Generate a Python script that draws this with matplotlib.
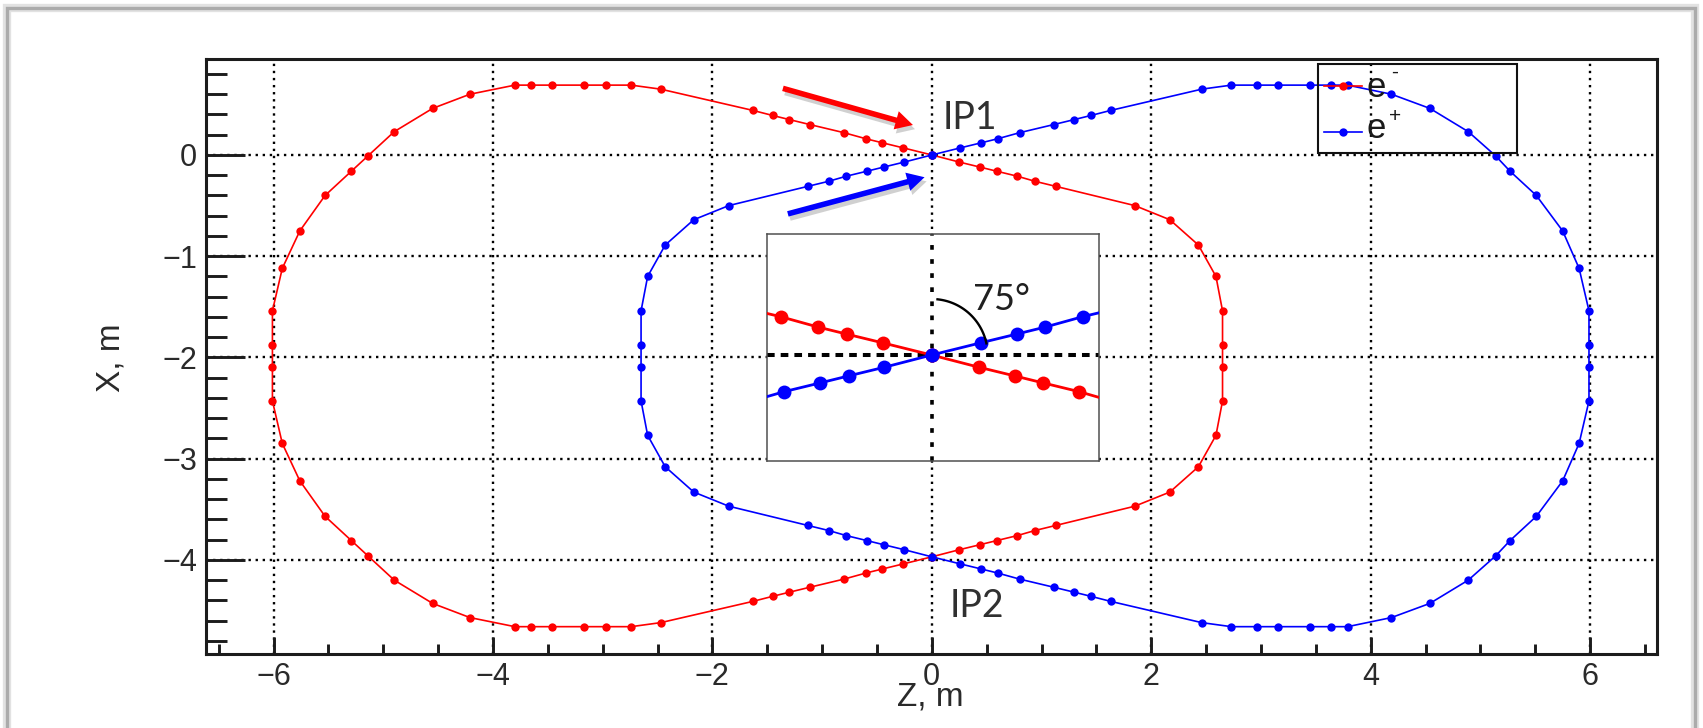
import numpy as np
import matplotlib
matplotlib.use("Agg")
import matplotlib.pyplot as plt
from matplotlib.ticker import MultipleLocator
from matplotlib.patches import Rectangle, FancyArrowPatch
from matplotlib.lines import Line2D
import matplotlib.patheffects as pe

# Beam orbits around the two interaction points: Z along the beam, X transverse (metres)
electron_z = [
    0.00, -0.26, -0.45, -0.60, -0.80, -1.11, -1.30, -1.45, -1.63,
    -2.47, -2.74, -2.97, -3.17, -3.46, -3.65, -3.80,
    -4.21, -4.55, -4.90, -5.14, -5.29, -5.53, -5.76, -5.92,
    -6.01, -6.01, -6.01, -6.01,
    -5.92, -5.76, -5.53, -5.29, -5.14, -4.90, -4.55, -4.21,
    -3.80, -3.65, -3.46, -3.17, -2.97, -2.74, -2.47,
    -1.63, -1.45, -1.30, -1.11, -0.80, -0.60, -0.45, -0.26,
    0.00, 0.25, 0.44, 0.59, 0.78, 0.94, 1.13, 1.85, 2.17,
    2.43, 2.59, 2.65, 2.65, 2.65, 2.65, 2.59, 2.43,
    2.17, 1.85, 1.13, 0.94, 0.78, 0.59, 0.44, 0.25, 0.00,
]
electron_x = [
    0.00, 0.07, 0.12, 0.16, 0.22, 0.30, 0.35, 0.39, 0.44,
    0.65, 0.69, 0.69, 0.69, 0.69, 0.69, 0.69,
    0.60, 0.46, 0.23, -0.01, -0.16, -0.40, -0.75, -1.12,
    -1.54, -1.88, -2.09, -2.43,
    -2.85, -3.22, -3.57, -3.81, -3.96, -4.20, -4.43, -4.57,
    -4.66, -4.66, -4.66, -4.66, -4.66, -4.66, -4.62,
    -4.41, -4.36, -4.32, -4.27, -4.19, -4.13, -4.09, -4.04,
    -3.97, -3.90, -3.85, -3.81, -3.76, -3.71, -3.66, -3.47, -3.33,
    -3.08, -2.77, -2.43, -2.09, -1.88, -1.54, -1.20, -0.89,
    -0.64, -0.50, -0.31, -0.26, -0.21, -0.16, -0.12, -0.07, 0.00,
]
positron_z = [
    0.00, 0.26, 0.45, 0.60, 0.80, 1.11, 1.30, 1.45, 1.63,
    2.46, 2.73, 2.96, 3.16, 3.45, 3.64, 3.79,
    4.19, 4.54, 4.89, 5.14, 5.27, 5.51, 5.75, 5.90,
    5.99, 5.99, 5.99, 5.99,
    5.90, 5.75, 5.51, 5.27, 5.14, 4.89, 4.54, 4.19,
    3.79, 3.64, 3.45, 3.16, 2.96, 2.73, 2.46,
    1.63, 1.45, 1.30, 1.11, 0.80, 0.60, 0.45, 0.26,
    0.00, -0.25, -0.44, -0.59, -0.78, -0.94, -1.13, -1.85, -2.17,
    -2.43, -2.59, -2.65, -2.65, -2.65, -2.65, -2.59, -2.43,
    -2.17, -1.85, -1.13, -0.94, -0.78, -0.59, -0.44, -0.25, 0.00,
]
positron_x = [
    0.00, 0.07, 0.12, 0.16, 0.22, 0.30, 0.35, 0.39, 0.44,
    0.65, 0.69, 0.69, 0.69, 0.69, 0.69, 0.69,
    0.60, 0.46, 0.23, -0.01, -0.16, -0.40, -0.75, -1.12,
    -1.54, -1.88, -2.09, -2.43,
    -2.85, -3.22, -3.57, -3.81, -3.96, -4.20, -4.43, -4.57,
    -4.66, -4.66, -4.66, -4.66, -4.66, -4.66, -4.62,
    -4.41, -4.36, -4.32, -4.27, -4.19, -4.13, -4.09, -4.04,
    -3.97, -3.90, -3.85, -3.81, -3.76, -3.71, -3.66, -3.47, -3.33,
    -3.08, -2.77, -2.43, -2.09, -1.88, -1.54, -1.20, -0.89,
    -0.64, -0.50, -0.31, -0.26, -0.21, -0.16, -0.12, -0.07, 0.00,
]

series_names = ["e", "e"]
series_charges = ["-", "+"]
series_colors = ["#ff0000", "#0000ff"]
x_ticks = [-6, -4, -2, 0, 2, 4, 6]
y_ticks = [-4, -3, -2, -1, 0]
ip_names = ["IP1", "IP2"]
ip_z = [0.0, 0.0]
ip_x = [0.0, -3.97]
crossing_label = "75°"

W, H = 1703, 728
plt.rcParams["font.family"] = ["Liberation Sans", "DejaVu Sans"]
fig = plt.figure(figsize=(W / 100, H / 100), dpi=100)

# axes frame in pixels
AX_L, AX_R, AX_T, AX_B = 205.5, 1657.0, 58.5, 654.0
ax_w, ax_h = AX_R - AX_L, AX_B - AX_T
ax = fig.add_axes([AX_L / W, (H - AX_B) / H, ax_w / W, ax_h / H])


def fx(px):
    return (px - AX_L) / ax_w


def fy(py):
    return (AX_B - py) / ax_h


ax.set_xlim(-6.62, 6.61)
ax.set_ylim(-4.93, 0.953)
ax.set_xticks(x_ticks)
ax.set_yticks(y_ticks)
ax.xaxis.set_minor_locator(MultipleLocator(0.5))
ax.yaxis.set_minor_locator(MultipleLocator(0.2))

tick_col = "#1c1c1c"
ax.tick_params(axis="y", which="major", direction="in", length=28, width=2.1,
               pad=6, labelsize=22, labelcolor="#2a2a2a", color=tick_col,
               left=True, right=False)
ax.tick_params(axis="y", which="minor", direction="in", length=15, width=2.1,
               color=tick_col, left=True, right=False)
ax.tick_params(axis="x", which="major", direction="in", length=12, width=2.1,
               pad=6, labelsize=22, labelcolor="#2a2a2a", color=tick_col,
               bottom=True, top=False)
ax.tick_params(axis="x", which="minor", direction="in", length=7, width=2.1,
               color=tick_col, bottom=True, top=False)
for sp in ax.spines.values():
    sp.set_linewidth(2.2)
    sp.set_color(tick_col)

ax.set_axisbelow(True)
ax.grid(True, which="major", color="black", linewidth=1.7,
        linestyle=(0, (1.0, 2.0)))

ax.set_xlabel("Z, m", fontsize=24, color="#2a2a2a", va="top")
ax.xaxis.set_label_coords(fx(930), fy(681))
ax.set_ylabel("X, m", fontsize=24, color="#2a2a2a")
ax.yaxis.set_label_coords(fx(127), fy(358))

orbits = [(electron_z, electron_x), (positron_z, positron_x)]
for (zs, xs), col in zip(orbits, series_colors):
    ax.plot(zs, xs, "-o", color=col, lw=1.2, ms=6.0, mew=0, zorder=3)

# interaction point labels
ax.text(ip_z[0] + 0.096, ip_x[0] + 0.254, ip_names[0], fontsize=27,
        family=["Lato", "DejaVu Sans"], color="#303030", ha="left", va="baseline")
ax.text(ip_z[1] + 0.162, ip_x[1] - 0.591, ip_names[1], fontsize=27,
        family=["Lato", "DejaVu Sans"], color="#303030", ha="left", va="baseline")

# arrows pointing at IP1
shadow = [pe.SimplePatchShadow(offset=(1.5, -3.0), shadow_rgbFace="#8a8a8a", alpha=0.4),
          pe.Normal()]
for (p0, p1), col in zip([((-1.357, 0.658), (-0.172, 0.296)),
                          ((-1.312, -0.582), (-0.066, -0.220))], series_colors):
    arr = FancyArrowPatch(p0, p1, arrowstyle="simple,head_length=1.25,head_width=1.35,tail_width=0.4",
                          mutation_scale=10, color=col, lw=0, zorder=4,
                          shrinkA=0, shrinkB=0, clip_on=False)
    arr.set_path_effects(shadow)
    ax.add_patch(arr)

# legend
ax.add_patch(Rectangle((fx(1318.3), fy(152.7)), fx(1517.3) - fx(1318.3),
                       fy(64) - fy(152.7), transform=ax.transAxes, fill=False,
                       edgecolor="#111111", lw=1.5, zorder=6))
for row_y, base_y, name, charge, col in zip([86, 131.7], [97, 138.5], series_names,
                                            series_charges, series_colors):
    ax.add_line(Line2D([fx(1324), fx(1361.7)], [fy(row_y), fy(row_y)],
                       transform=ax.transAxes, color=col, lw=1.2, zorder=6))
    ax.add_line(Line2D([fx(1342.9)], [fy(row_y)], transform=ax.transAxes, marker="o",
                       color=col, ms=6.0, mew=0, zorder=6))
    ax.text(fx(1367), fy(base_y), name, transform=ax.transAxes, fontsize=25,
            color="#1a1a1a", ha="left", va="baseline", zorder=7)
sup_pos = [(1394.5, 72), (1395.5, 117)]
for (sx, sy), charge in zip(sup_pos, series_charges):
    ax.text(fx(sx), fy(sy), charge, transform=ax.transAxes, fontsize=15,
            color="#1a1a1a", ha="center", va="center", zorder=7)

# magnified view of the crossing at IP1
IN_L, IN_R, IN_T, IN_B = 767.3, 1099.0, 234.0, 460.7
in_w, in_h = IN_R - IN_L, IN_B - IN_T
axin = ax.inset_axes([fx(IN_L), fy(IN_B), in_w / ax_w, in_h / ax_h])
axin.set_xlim(-0.871, 0.887)
axin.set_ylim(-0.607, 0.695)
axin.set_xticks([])
axin.set_yticks([])
for sp in axin.spines.values():
    sp.set_linewidth(1.1)
    sp.set_color("#505050")
axin.axvline(0, color="black", lw=2.6, dashes=(1.3, 2.6), zorder=1)
axin.axhline(0, color="black", lw=2.9, dashes=(1.9, 1.5), zorder=1)
for (zs, xs), col in zip(orbits, series_colors):
    axin.plot(zs, xs, "-o", color=col, lw=2.0, ms=10.0, mew=0, zorder=3)

cx, cy = axin.transLimits.transform((0.0, 0.0))
t = np.radians(np.linspace(12, 84, 80))
arc_r = 56.0
axin.plot(cx + arc_r * np.cos(t) / in_w, cy + arc_r * np.sin(t) / in_h,
          transform=axin.transAxes, color="black", lw=1.7, zorder=4)
axin.text((973 - IN_L) / in_w, (IN_B - 310) / in_h, crossing_label,
          transform=axin.transAxes, fontsize=26, family=["Lato", "DejaVu Sans"],
          color="#202020", ha="left", va="baseline", zorder=5)

# slide border with a soft shadow
for lw, col in [(6.0, "#e2e2e2"), (2.4, "#ababab")]:
    fig.add_artist(Line2D([7 / W, 7 / W, 1695 / W, 1695 / W],
                          [-0.05, 1 - 8 / H, 1 - 8 / H, -0.05],
                          transform=fig.transFigure, color=col, lw=lw,
                          solid_joinstyle="miter"))

fig.savefig("out.png", dpi=100)
